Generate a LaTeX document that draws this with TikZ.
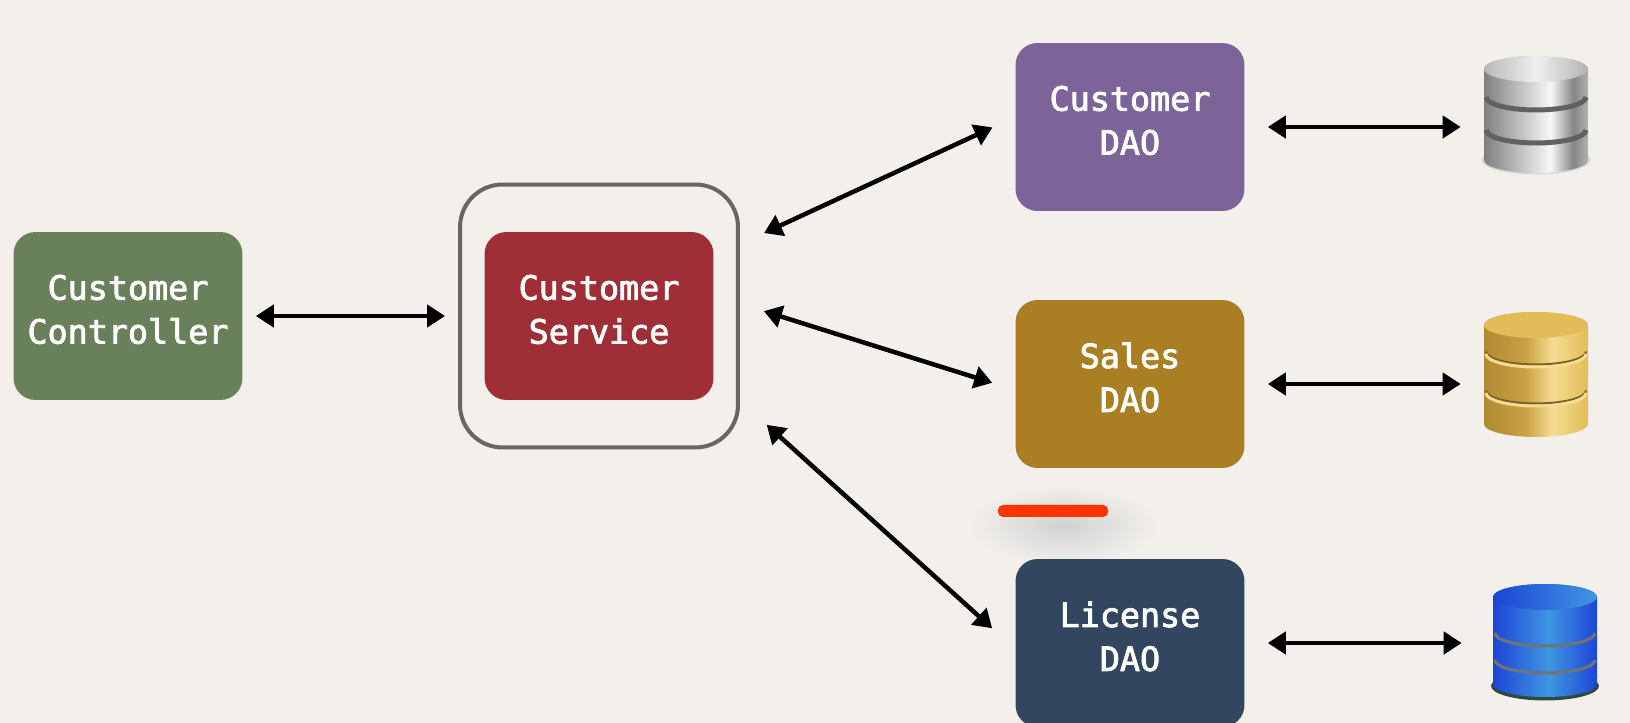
\documentclass[tikz,border=0pt]{standalone}
\usepackage{fontspec}
\usetikzlibrary{arrows.meta}
\newfontfamily\boxfont[FakeBold=2.4]{DejaVu Sans Mono}

\definecolor{paper}{HTML}{F3F0EC}
\pgfdeclarehorizontalshading{silverside}{100bp}{color(0bp)=(black!50);color(25bp)=(black!50);color(42bp)=(black!25);color(57bp)=(black!3);color(68bp)=(black!48);color(75bp)=(black!30);color(100bp)=(black!30)}
\definecolor{goldA}{HTML}{B08A34}
\definecolor{goldB}{HTML}{C9A143}
\definecolor{goldC}{HTML}{F6DC93}
\definecolor{goldD}{HTML}{E2BC58}
\pgfdeclarehorizontalshading{goldside}{100bp}{color(0bp)=(goldA);color(25bp)=(goldA);color(45bp)=(goldB);color(58bp)=(goldC);color(75bp)=(goldD);color(100bp)=(goldD)}
\definecolor{blueA}{HTML}{1C45D6}
\definecolor{blueB}{HTML}{3F96E2}
\definecolor{blueShade}{HTML}{2E4A3C}
\pgfdeclarehorizontalshading{blueside}{100bp}{color(0bp)=(blueA);color(25bp)=(blueA);color(52bp)=(blueB);color(75bp)=(blueA);color(100bp)=(blueA)}

% one layer of a database stack: x, top, bottom, shading, band style
\newcommand{\dblayer}[5]{
    \path[shading=#4] ({#1-52},#2) -- ({#1-52},#3)
        arc[start angle=180, end angle=360, x radius=1.04cm, y radius=0.26cm]
        -- ({#1+52},#2)
        arc[start angle=0, end angle=180, x radius=1.04cm, y radius=0.26cm] -- cycle;
    \path[#5] ({#1-50},{#3-3})
        arc[start angle=180, end angle=360, x radius=1cm, y radius=0.26cm];
}

\tikzset{
    box/.style={rectangle, rounded corners=0.44cm, minimum width=4.58cm, minimum height=3.36cm,
        inner sep=0pt, text=white, align=center, text depth=0.27cm,
        font=\boxfont\fontsize{19pt}{25pt}\selectfont},
    svcframe/.style={rectangle, draw=black!60, line width=0.08cm, rounded corners=0.85cm,
        minimum width=5.56cm, minimum height=5.26cm, inner sep=0pt},
    store/.style={rectangle, minimum width=2.08cm, minimum height=2.4cm, inner sep=0pt},
    link/.style={{Triangle[length=0.36cm,width=0.44cm]}-{Triangle[length=0.36cm,width=0.44cm]},
        line width=0.09cm, black},
    silverband/.style={draw=black!62, line width=0.1cm},
    goldband/.style={draw=goldC, line width=0.06cm,
        preaction={draw=goldA!70!black, line width=0.04cm, transform canvas={yshift=0.05cm}}},
    blueband/.style={draw=black!55, line width=0.06cm},
}

\begin{document}
\begin{tikzpicture}[x=0.02cm, y=0.02cm]
    \useasboundingbox (0,0) rectangle (1630,723);
    \fill[paper] (0,0) rectangle (1630,723);

    % soft shade round the red marker
    \path[inner color=black!18, outer color=paper] (1063,198) ellipse[x radius=1.9cm, y radius=0.8cm];

    \node[box, fill={rgb,255:red,104;green,129;blue,90}] (ctrl) at (128,407) {Customer\\Controller};
    \node[box, fill={rgb,255:red,160;green,46;blue,54}] (svc) at (599,407) {Customer\\Service};
    \node[svcframe] (svcFrame) at (599,407) {};
    \node[box, fill={rgb,255:red,124;green,99;blue,152}] (custDao) at (1130,596) {Customer\\DAO};
    \node[box, fill={rgb,255:red,170;green,126;blue,34}] (salesDao) at (1130,339) {Sales\\DAO};
    \node[box, fill={rgb,255:red,50;green,71;blue,95}] (licDao) at (1130,80) {License\\DAO};

    % silver database
    \node[store] (custDb) at (1536,608) {};
    \fill[black!25, opacity=0.5] (1536,563) ellipse[x radius=1.09cm, y radius=0.29cm];
    \dblayer{1536}{596}{563}{silverside}{draw=none}
    \dblayer{1536}{629}{596}{silverside}{silverband}
    \dblayer{1536}{654}{629}{silverside}{silverband}
    \path[left color=black!28, right color=black!30, middle color=black!6]
        (1536,654) ellipse[x radius=1.04cm, y radius=0.26cm];

    % gold database
    \node[store] (salesDb) at (1536,348) {};
    \dblayer{1536}{333}{299}{goldside}{draw=none}
    \dblayer{1536}{372}{333}{goldside}{goldband}
    \dblayer{1536}{398}{372}{goldside}{goldband}
    \fill[goldD] (1536,398) ellipse[x radius=1.04cm, y radius=0.26cm];

    % blue database
    \node[store] (licDb) at (1545,82) {};
    \fill[blueShade] (1545,37) ellipse[x radius=1.08cm, y radius=0.29cm];
    \dblayer{1545}{66}{39}{blueside}{draw=none}
    \dblayer{1545}{93}{66}{blueside}{blueband}
    \dblayer{1545}{126}{93}{blueside}{blueband}
    \path[left color=blueA, right color=blueB]
        (1545,126) ellipse[x radius=1.04cm, y radius=0.26cm];

    % red marker
    \node[rectangle, fill={rgb,255:red,255;green,51;blue,0}, rounded corners=0.1cm,
        minimum width=2.2cm, minimum height=0.24cm, inner sep=0pt] (marker) at (1053,212) {};

    \draw[link, shorten <=0.26cm, shorten >=0.26cm] (ctrl) -- (svcFrame);
    \draw[link, shorten <=0.53cm, shorten >=0.5cm] (svcFrame.27.7) -- (custDao.175);
    \draw[link, shorten <=0.5cm, shorten >=0.48cm] (svcFrame.5.5) -- (salesDao.183);
    \draw[link, shorten <=0.72cm, shorten >=0.62cm] (svcFrame.-31.4) -- (licDao.183);
    \draw[link, shorten <=0.46cm, shorten >=0.46cm] (custDao) -- (custDao -| custDb.west);
    \draw[link, shorten <=0.46cm, shorten >=0.46cm] (salesDao) -- (salesDao -| salesDb.west);
    \draw[link, shorten <=0.46cm, shorten >=0.62cm] (licDao) -- (licDao -| licDb.west);
\end{tikzpicture}
\end{document}
